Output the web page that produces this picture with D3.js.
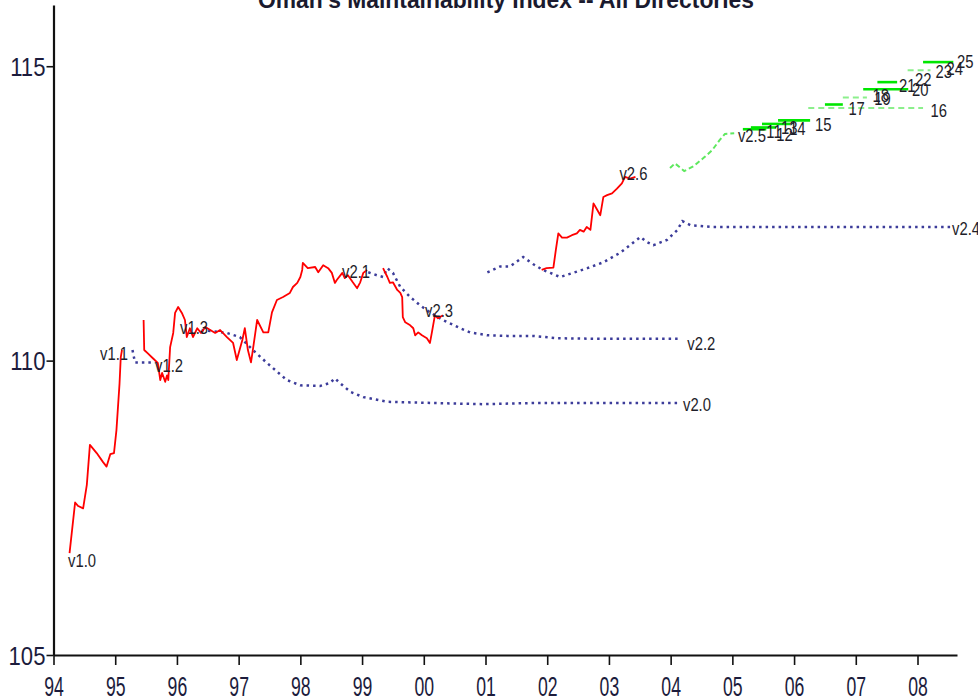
<!DOCTYPE html>
<html>
<head>
<meta charset="utf-8">
<script src="https://cdn.jsdelivr.net/npm/d3@7"></script>
<style>
  html, body { margin: 0; padding: 0; background: #fff; }
  svg { display: block; font-family: Arial, "Liberation Sans", Helvetica, sans-serif; }
</style>
</head>
<body>
<svg id="chart" width="978" height="699"></svg>
<script>
// ---- Chart data -----------------------------------------------------------
const chartTitle = "Oman's Maintainability Index -- All Directories";

const tickYears  = [1994, 1995, 1996, 1997, 1998, 1999, 2000, 2001, 2002, 2003, 2004, 2005, 2006, 2007, 2008];
const tickLabels = ["94", "95", "96", "97", "98", "99", "00", "01", "02", "03", "04", "05", "06", "07", "08"];
const valueTicks = [105, 110, 115];

// Development (trunk) history, [year, index]
const trunkV10 = [
  [1994.26, 106.73], [1994.35, 107.59], [1994.40, 107.53], [1994.48, 107.49], [1994.54, 107.89],
  [1994.59, 108.57], [1994.70, 108.43], [1994.80, 108.28], [1994.86, 108.20], [1994.92, 108.41],
  [1994.98, 108.43], [1995.02, 108.82], [1995.07, 109.61], [1995.09, 110.06], [1995.11, 110.18]
];
const trunkV12 = [
  [1995.46, 110.69], [1995.47, 110.18], [1995.52, 110.13], [1995.61, 110.04], [1995.69, 109.96],
  [1995.73, 109.67], [1995.76, 109.79], [1995.81, 109.64], [1995.84, 109.75], [1995.86, 109.67],
  [1995.89, 110.23], [1995.94, 110.47], [1995.97, 110.81], [1996.02, 110.91], [1996.08, 110.81],
  [1996.13, 110.69], [1996.16, 110.40], [1996.21, 110.55], [1996.26, 110.40], [1996.33, 110.55],
  [1996.39, 110.47], [1996.46, 110.57], [1996.54, 110.52], [1996.62, 110.47], [1996.70, 110.52],
  [1996.81, 110.40], [1996.91, 110.30], [1996.97, 110.01], [1997.06, 110.35], [1997.10, 110.55],
  [1997.15, 110.18], [1997.20, 109.97], [1997.23, 110.18], [1997.30, 110.69], [1997.40, 110.48],
  [1997.48, 110.48], [1997.54, 110.82], [1997.62, 111.03], [1997.72, 111.08], [1997.83, 111.15],
  [1997.88, 111.25], [1997.95, 111.32], [1998.00, 111.42], [1998.03, 111.54], [1998.04, 111.66],
  [1998.12, 111.57], [1998.24, 111.59], [1998.29, 111.50], [1998.37, 111.62], [1998.45, 111.57],
  [1998.51, 111.49], [1998.56, 111.32], [1998.59, 111.37], [1998.68, 111.49], [1998.72, 111.40],
  [1998.77, 111.45], [1998.85, 111.33], [1998.92, 111.23], [1998.97, 111.33], [1999.02, 111.49],
  [1999.08, 111.54]
];
const trunkV23 = [
  [1999.34, 111.57], [1999.41, 111.42], [1999.45, 111.32], [1999.50, 111.33], [1999.57, 111.20],
  [1999.62, 111.15], [1999.65, 111.08], [1999.66, 110.74], [1999.70, 110.65], [1999.78, 110.60],
  [1999.83, 110.55], [1999.86, 110.43], [1999.91, 110.48], [1999.97, 110.43], [2000.05, 110.38],
  [2000.10, 110.30], [2000.13, 110.47], [2000.18, 110.77], [2000.23, 110.72], [2000.31, 110.77]
];
const trunkV26 = [
  [2001.91, 111.54], [2001.99, 111.57], [2002.10, 111.58], [2002.14, 111.88], [2002.18, 112.16],
  [2002.24, 112.09], [2002.32, 112.09], [2002.40, 112.13], [2002.48, 112.16], [2002.53, 112.22],
  [2002.59, 112.19], [2002.64, 112.27], [2002.70, 112.22], [2002.75, 112.67], [2002.80, 112.58],
  [2002.86, 112.47], [2002.91, 112.78], [2002.97, 112.81], [2003.05, 112.84], [2003.13, 112.92],
  [2003.21, 113.01], [2003.26, 113.12], [2003.34, 113.09], [2003.43, 113.12]
];
const trunkV25 = [
  [2003.99, 113.27], [2004.07, 113.35], [2004.22, 113.22], [2004.37, 113.30], [2004.53, 113.44],
  [2004.67, 113.57], [2004.79, 113.74], [2004.88, 113.85], [2005.03, 113.86]
];

// Maintenance branches, [year, index]
const branchV11 = [[1995.28, 110.18], [1995.32, 109.97], [1995.65, 109.97]];
const branchV20 = [
  [1996.40, 110.52], [1996.81, 110.47], [1997.02, 110.40], [1997.23, 110.18], [1997.46, 109.96],
  [1997.78, 109.67], [1998.00, 109.58], [1998.32, 109.57], [1998.48, 109.62], [1998.56, 109.70],
  [1998.64, 109.62], [1998.81, 109.47], [1999.02, 109.38], [1999.41, 109.30], [2000.15, 109.28],
  [2000.96, 109.26], [2001.77, 109.28], [2004.11, 109.28]
];
const branchV22 = [
  [1999.10, 111.50], [1999.24, 111.45], [1999.34, 111.42], [1999.41, 111.57], [1999.50, 111.49],
  [1999.62, 111.25], [1999.78, 111.08], [1999.94, 110.94], [2000.10, 110.82], [2000.31, 110.69],
  [2000.59, 110.55], [2000.75, 110.48], [2001.03, 110.43], [2001.35, 110.42], [2001.77, 110.42],
  [2002.16, 110.38], [2002.86, 110.37], [2004.15, 110.37]
];
const branchV24 = [
  [2001.03, 111.50], [2001.24, 111.60], [2001.40, 111.60], [2001.61, 111.76], [2001.77, 111.64],
  [2001.93, 111.54], [2002.05, 111.49], [2002.21, 111.42], [2002.42, 111.49], [2002.65, 111.57],
  [2002.91, 111.67], [2003.18, 111.83], [2003.51, 112.10], [2003.62, 112.01], [2003.72, 111.96],
  [2003.94, 112.05], [2004.11, 112.22], [2004.19, 112.37], [2004.32, 112.30], [2004.69, 112.27],
  [2008.53, 112.27]
];

// Recent releases: start year, end year, index, still maintained
const releaseStart  = [2005.17, 2005.30, 2005.48, 2005.74, 2006.23, 2006.50, 2006.79, 2007.12, 2007.35, 2007.84, 2008.09];
const releaseEnd    = [2005.55, 2005.71, 2005.94, 2006.26, 2008.09, 2006.79, 2007.18, 2007.85, 2007.67, 2008.21, 2008.58];
const releaseValue  = [113.93, 113.96, 114.02, 114.08, 114.29, 114.35, 114.47, 114.61, 114.73, 114.93, 115.07];
const releaseActive = [true, true, true, true, false, true, false, true, true, false, true];

// Release names, placed at [year, index]
const labelText  = ["v1.0", "v1.1", "v1.2", "v1.3", "v2.1", "v2.3", "v2.2", "v2.0", "v2.4", "v2.6", "v2.5",
                    "11", "12", "13", "14", "15", "16", "17", "18", "19", "20", "21", "22", "23", "24", "25"];
const labelYear  = [1994.235, 1994.754, 1995.645, 1996.05, 1998.676, 2000.02, 2004.27, 2004.20, 2008.56, 2003.17, 2005.09,
                    2005.55, 2005.71, 2005.79, 2005.92, 2006.34, 2008.21, 2006.88, 2007.27, 2007.30, 2007.91, 2007.70, 2007.96, 2008.29, 2008.47, 2008.64];
const labelValue = [106.49, 110.01, 109.80, 110.45, 111.40, 110.74, 110.18, 109.14, 112.13, 113.06, 113.71,
                    113.78, 113.73, 113.85, 113.83, 113.90, 114.13, 114.17, 114.39, 114.34, 114.49, 114.56, 114.66, 114.80, 114.85, 114.97];

// ---- Drawing ---------------------------------------------------------------
const svg = d3.select("#chart");

const x = d3.scaleLinear().domain([1994, 2008.64]).range([53.5, 957]);
const y = d3.scaleLinear().domain([105, 116.04]).range([655, 5]);

const line = d3.line().x(d => x(d[0])).y(d => y(d[1]));

// Title (its upper half runs off the top edge)
svg.append("text")
  .attr("x", 506).attr("y", 8)
  .attr("text-anchor", "middle")
  .attr("font-size", 23).attr("font-weight", "bold")
  .attr("fill", "#1a1a2e")
  .attr("textLength", 496).attr("lengthAdjust", "spacingAndGlyphs")
  .text(chartTitle);

// Maintenance branches: blue dotted
const plot = svg.append("g");
[branchV11, branchV20, branchV22, branchV24].forEach(s => {
  plot.append("path").datum(s)
    .attr("d", line)
    .attr("fill", "none")
    .attr("stroke", "#3c3c9a")
    .attr("stroke-width", 2.5)
    .attr("stroke-dasharray", "2.5,4");
});

// Development history: red
[trunkV10, trunkV12, trunkV23, trunkV26].forEach(s => {
  plot.append("path").datum(s)
    .attr("d", line)
    .attr("fill", "none")
    .attr("stroke", "#ff0000")
    .attr("stroke-width", 1.8)
    .attr("stroke-linejoin", "round");
});

// Later development: light green dashed
plot.append("path").datum(trunkV25)
  .attr("d", line)
  .attr("fill", "none")
  .attr("stroke", "#5ee85e")
  .attr("stroke-width", 2)
  .attr("stroke-dasharray", "5,3");

// Recent releases: short green segments
plot.selectAll("line.release")
  .data(releaseStart.map((s, i) => ({ s, e: releaseEnd[i], v: releaseValue[i], active: releaseActive[i] })))
  .join("line")
  .attr("class", "release")
  .attr("x1", d => x(d.s)).attr("x2", d => x(d.e))
  .attr("y1", d => y(d.v)).attr("y2", d => y(d.v))
  .attr("stroke", d => d.active ? "#00e600" : "#8cef8c")
  .attr("stroke-width", d => d.active ? 2.6 : 2)
  .attr("stroke-dasharray", d => d.active ? null : "6,4");

// Release names
svg.append("g").selectAll("text")
  .data(labelText.map((t, i) => ({ t, yr: labelYear[i], v: labelValue[i] })))
  .join("text")
  .attr("transform", d => `translate(${x(d.yr)},${y(d.v)}) scale(0.78,1)`)
  .attr("font-size", 19)
  .attr("fill", "#1e1e2a")
  .text(d => d.t);

// Axes
const xAxis = svg.append("g")
  .attr("transform", `translate(0,${y(105)})`)
  .call(d3.axisBottom(x).tickValues(tickYears).tickFormat((d, i) => tickLabels[i])
        .tickSize(10).tickSizeOuter(0));
xAxis.select(".domain").attr("stroke", "#111").attr("stroke-width", 2.2);
xAxis.selectAll(".tick line").attr("stroke", "#111").attr("stroke-width", 1.6);
xAxis.selectAll(".tick text")
  .attr("y", 41).attr("dy", null)
  .attr("font-size", 28)
  .attr("fill", "#1c1c3c")
  .attr("transform", "scale(0.63,1)");

const yAxis = svg.append("g")
  .attr("transform", `translate(${x(1994)},0)`)
  .call(d3.axisLeft(y).tickValues(valueTicks).tickSize(7).tickSizeOuter(0));
yAxis.select(".domain").attr("stroke", "#111").attr("stroke-width", 2.2);
yAxis.selectAll(".tick line").attr("stroke", "#111").attr("stroke-width", 1.6);
yAxis.selectAll(".tick text")
  .attr("x", -9.5).attr("dy", "0.36em")
  .attr("font-size", 26)
  .attr("fill", "#1c1c3c")
  .attr("transform", "scale(0.85,1)");
</script>
</body>
</html>
